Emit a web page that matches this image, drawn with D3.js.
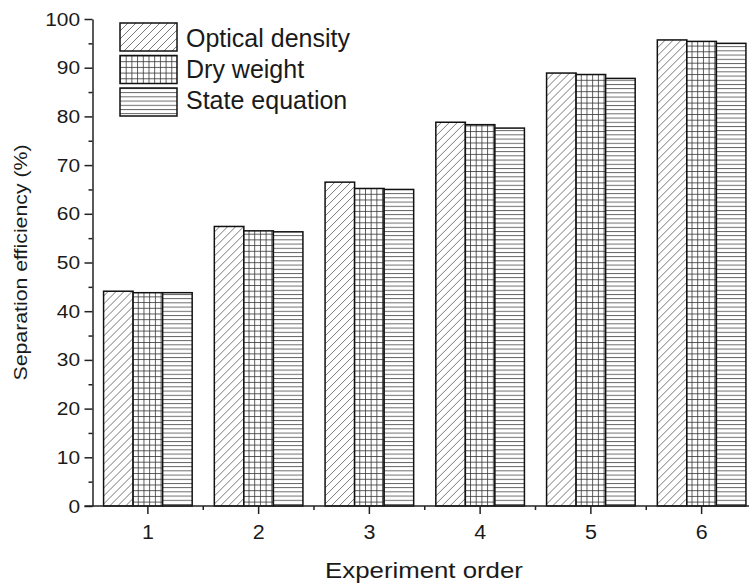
<!DOCTYPE html>
<html>
<head>
<meta charset="utf-8">
<script src="https://cdn.jsdelivr.net/npm/d3@7"></script>
<style>
  body { margin: 0; background: #fff; }
  svg { display: block; font-family: "Liberation Sans", Arial, sans-serif; }
</style>
</head>
<body>
<div id="chart"></div>
<script>
// dados
var categorias = ["1", "2", "3", "4", "5", "6"];
var series = ["Optical density", "Dry weight", "State equation"];
var opticalDensity = [44.1, 57.4, 66.5, 78.8, 88.9, 95.7];
var dryWeight = [43.8, 56.5, 65.2, 78.3, 88.6, 95.4];
var stateEquation = [43.8, 56.3, 65.0, 77.6, 87.8, 95.0];
var yTicks = [0, 10, 20, 30, 40, 50, 60, 70, 80, 90, 100];
var yMinor = [5, 15, 25, 35, 45, 55, 65, 75, 85, 95];

var valores = [opticalDensity, dryWeight, stateEquation];
var padroes = ["hatch-diag", "hatch-grid", "hatch-horiz"];

var width = 749, height = 588;
var margin = {left: 92.5, top: 19, bottom: 82};

var svg = d3.select("#chart").append("svg")
    .attr("width", width)
    .attr("height", height);

// padrões de preenchimento
var defs = svg.append("defs");

var pd = defs.append("pattern")
    .attr("id", "hatch-diag")
    .attr("patternUnits", "userSpaceOnUse")
    .attr("width", 8).attr("height", 8);
pd.append("rect").attr("width", 8).attr("height", 8).attr("fill", "#fff");
pd.append("path")
    .attr("d", "M-2,2 L2,-2 M0,8 L8,0 M6,10 L10,6")
    .attr("stroke", "#555").attr("stroke-width", 0.8);

var pg = defs.append("pattern")
    .attr("id", "hatch-grid")
    .attr("patternUnits", "userSpaceOnUse")
    .attr("width", 5.7).attr("height", 5.7);
pg.append("rect").attr("width", 5.7).attr("height", 5.7).attr("fill", "#fff");
pg.append("path")
    .attr("d", "M0.5,0 L0.5,5.7 M0,0.5 L5.7,0.5")
    .attr("stroke", "#333").attr("stroke-width", 0.8);

var ph = defs.append("pattern")
    .attr("id", "hatch-horiz")
    .attr("patternUnits", "userSpaceOnUse")
    .attr("width", 8).attr("height", 4.2);
ph.append("rect").attr("width", 8).attr("height", 4.2).attr("fill", "#fff");
ph.append("path")
    .attr("d", "M0,0.5 L8,0.5")
    .attr("stroke", "#333").attr("stroke-width", 0.8);

// escalas
var x = d3.scaleBand()
    .domain(categorias)
    .range([margin.left, 757])
    .paddingInner(0.2)
    .paddingOuter(0.1);

var xSub = d3.scaleBand()
    .domain(series)
    .range([0, x.bandwidth()]);

var y = d3.scaleLinear()
    .domain([0, 100])
    .range([height - margin.bottom, margin.top]);

// barras
var grupos = svg.append("g").selectAll("g")
    .data(categorias)
    .enter().append("g")
    .attr("transform", function(d) { return "translate(" + x(d) + ",0)"; });

grupos.selectAll("rect")
    .data(function(d, i) {
        return series.map(function(s, j) { return {serie: s, valor: valores[j][i], padrao: padroes[j]}; });
    })
    .enter().append("rect")
    .attr("x", function(d) { return xSub(d.serie); })
    .attr("y", function(d) { return y(d.valor); })
    .attr("width", xSub.bandwidth())
    .attr("height", function(d) { return y(0) - y(d.valor); })
    .attr("fill", function(d) { return "url(#" + d.padrao + ")"; })
    .attr("stroke", "#111")
    .attr("stroke-width", 1.5);

// eixo y
var yAxis = svg.append("g")
    .attr("transform", "translate(" + margin.left + ",0)")
    .call(d3.axisLeft(y).tickValues(yTicks).tickSize(8).tickSizeOuter(0).tickPadding(3));
yAxis.selectAll("text")
    .style("font-size", "19px")
    .attr("fill", "#1a1a1a")
    .attr("x", -11.3)
    .attr("transform", "scale(1.1,1)");
yAxis.selectAll("line, path").attr("stroke", "#222").attr("stroke-width", 1.5);

var yAxisMinor = svg.append("g")
    .attr("transform", "translate(" + margin.left + ",0)")
    .call(d3.axisLeft(y).tickValues(yMinor).tickSize(4).tickFormat(""));
yAxisMinor.select(".domain").remove();
yAxisMinor.selectAll("line").attr("stroke", "#222").attr("stroke-width", 1.5);

// eixo x
var xAxis = svg.append("g")
    .attr("transform", "translate(0," + y(0) + ")")
    .call(d3.axisBottom(x).tickSize(8).tickSizeOuter(0).tickPadding(11));
xAxis.selectAll("text")
    .style("font-size", "19.5px")
    .attr("fill", "#1a1a1a")
    .attr("transform", "scale(1.1,1)");
xAxis.selectAll("line, path").attr("stroke", "#222").attr("stroke-width", 1.5);
xAxis.select(".domain").attr("d", "M" + (margin.left - 8) + ",0H" + width);

// ticks menores entre grupos
var passo = x.step();
svg.append("g").selectAll("line")
    .data(categorias)
    .enter().append("line")
    .attr("x1", function(d) { return x(d) + x.bandwidth() / 2 + passo / 2; })
    .attr("x2", function(d) { return x(d) + x.bandwidth() / 2 + passo / 2; })
    .attr("y1", y(0))
    .attr("y2", y(0) + 4)
    .attr("stroke", "#222")
    .attr("stroke-width", 1.5);

// títulos dos eixos
svg.append("text")
    .attr("transform", "translate(424,578) scale(1.2,1)")
    .attr("text-anchor", "middle")
    .style("font-size", "21.5px")
    .attr("fill", "#1a1a1a")
    .text("Experiment order");

svg.append("text")
    .attr("transform", "translate(27," + ((y(0) + y(100)) / 2) + ") rotate(-90) scale(1.12,1)")
    .attr("text-anchor", "middle")
    .style("font-size", "19px")
    .attr("fill", "#1a1a1a")
    .text("Separation efficiency (%)");

// legenda
var legenda = svg.append("g").attr("transform", "translate(120,23)");
var itens = legenda.selectAll("g")
    .data(series)
    .enter().append("g")
    .attr("transform", function(d, i) { return "translate(0," + (i * 32.5) + ")"; });
itens.append("rect")
    .attr("width", 57)
    .attr("height", 28)
    .attr("fill", function(d, i) { return "url(#" + padroes[i] + ")"; })
    .attr("stroke", "#111")
    .attr("stroke-width", 1.5);
itens.append("text")
    .attr("x", 66)
    .attr("y", function(d, i) { return 24 - i * 1.5; })
    .style("font-size", "25px")
    .attr("fill", "#1a1a1a")
    .text(function(d) { return d; });
</script>
</body>
</html>
